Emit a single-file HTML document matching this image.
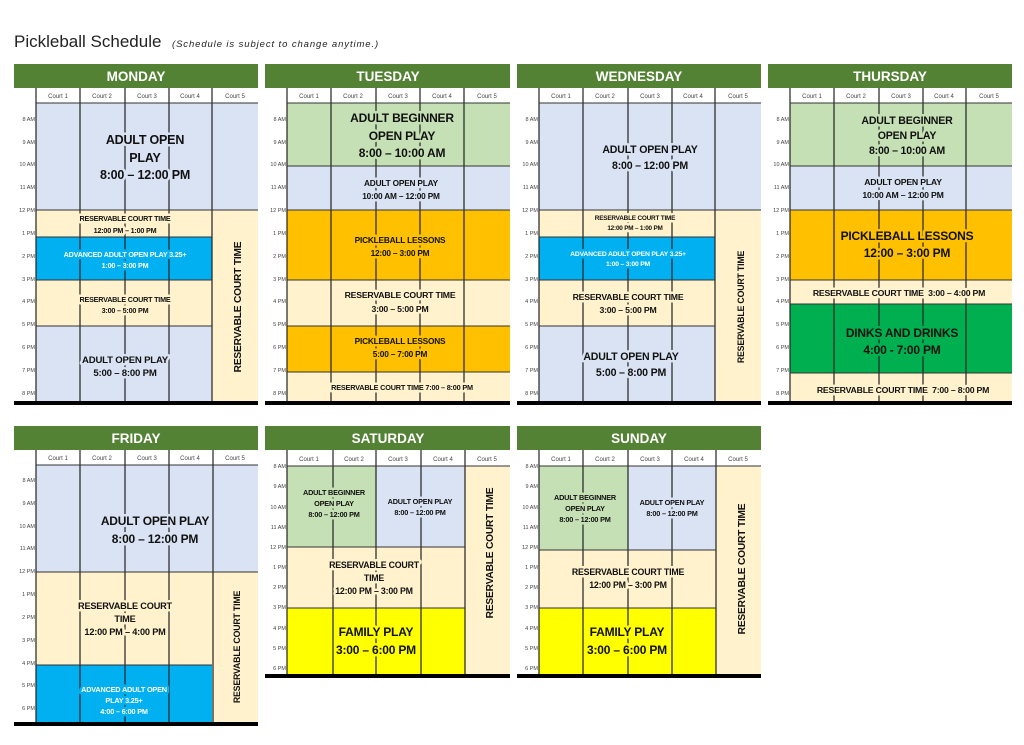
<!DOCTYPE html>
<html><head><meta charset="utf-8"><style>
html,body{margin:0;padding:0;background:#fff;}
svg{display:block;font-family:"Liberation Sans",sans-serif;}
.h{fill:#fff;font-weight:bold;font-size:13.5px;text-anchor:middle;}
.c{fill:#444;font-size:6px;text-anchor:middle;}
.t{fill:#444;font-size:5.5px;text-anchor:end;}
.b{font-weight:bold;text-anchor:middle;fill:#111;paint-order:stroke;stroke-width:5px;stroke-linejoin:round;letter-spacing:-0.2px;}
.sb{stroke:#dae3f3}.sc{stroke:#fff2cc}.sg{stroke:#c5e0b4}.so{stroke:#ffc000}.sa{stroke:#00b0f0;fill:#fff}.sd{stroke:#00b050}.sy{stroke:#ffff00}
.vl{stroke:#222;stroke-width:1.2}
.hl{stroke:#333;stroke-width:1}
</style></head><body>
<svg width="1024" height="745" viewBox="0 0 1024 745" xmlns="http://www.w3.org/2000/svg">
<text x="14" y="47" font-size="17" fill="#222">Pickleball Schedule</text>
<text x="172" y="47" font-size="9.5" font-style="italic" fill="#222" letter-spacing="0.9">(Schedule is subject to change anytime.)</text>

<!-- ================= MONDAY ================= -->
<rect x="14" y="64" width="244" height="24" fill="#548235"/>
<text class="h" x="136" y="81">MONDAY</text>
<rect x="36" y="103" width="222" height="107" fill="#dae3f3"/>
<rect x="36" y="210" width="176" height="27" fill="#fff2cc"/>
<rect x="36" y="237" width="176" height="43" fill="#00b0f0"/>
<rect x="36" y="280" width="176" height="46" fill="#fff2cc"/>
<rect x="36" y="326" width="176" height="75" fill="#dae3f3"/>
<rect x="212" y="210" width="46" height="191" fill="#fff2cc"/>
<g class="vl"><line x1="36" y1="88" x2="36" y2="401"/><line x1="80" y1="88" x2="80" y2="401"/><line x1="125" y1="88" x2="125" y2="401"/><line x1="169" y1="88" x2="169" y2="401"/><line x1="212" y1="88" x2="212" y2="401"/></g>
<g class="hl"><line x1="36" y1="103" x2="258" y2="103"/><line x1="36" y1="210" x2="258" y2="210"/><line x1="36" y1="237" x2="212" y2="237"/><line x1="36" y1="280" x2="212" y2="280"/><line x1="36" y1="326" x2="212" y2="326"/></g>
<rect x="14" y="401" width="244" height="4" fill="#000"/>

<!-- ================= TUESDAY ================= -->
<rect x="265" y="64" width="245" height="24" fill="#548235"/>
<text class="h" x="388" y="81">TUESDAY</text>
<rect x="287" y="103" width="223" height="63" fill="#c5e0b4"/>
<rect x="287" y="166" width="223" height="44" fill="#dae3f3"/>
<rect x="287" y="210" width="223" height="70" fill="#ffc000"/>
<rect x="287" y="280" width="223" height="46" fill="#fff2cc"/>
<rect x="287" y="326" width="223" height="46" fill="#ffc000"/>
<rect x="287" y="372" width="223" height="29" fill="#fff2cc"/>
<g class="vl"><line x1="287" y1="88" x2="287" y2="401"/><line x1="331" y1="88" x2="331" y2="401"/><line x1="376" y1="88" x2="376" y2="401"/><line x1="420" y1="88" x2="420" y2="401"/><line x1="464" y1="88" x2="464" y2="401"/></g>
<g class="hl"><line x1="287" y1="103" x2="510" y2="103"/><line x1="287" y1="166" x2="510" y2="166"/><line x1="287" y1="210" x2="510" y2="210"/><line x1="287" y1="280" x2="510" y2="280"/><line x1="287" y1="326" x2="510" y2="326"/><line x1="287" y1="372" x2="510" y2="372"/></g>
<rect x="265" y="401" width="245" height="4" fill="#000"/>

<!-- ================= WEDNESDAY ================= -->
<rect x="517" y="64" width="244" height="24" fill="#548235"/>
<text class="h" x="639" y="81">WEDNESDAY</text>
<rect x="539" y="103" width="222" height="107" fill="#dae3f3"/>
<rect x="539" y="210" width="176" height="27" fill="#fff2cc"/>
<rect x="539" y="237" width="176" height="43" fill="#00b0f0"/>
<rect x="539" y="280" width="176" height="46" fill="#fff2cc"/>
<rect x="539" y="326" width="176" height="75" fill="#dae3f3"/>
<rect x="715" y="210" width="46" height="191" fill="#fff2cc"/>
<g class="vl"><line x1="539" y1="88" x2="539" y2="401"/><line x1="583" y1="88" x2="583" y2="401"/><line x1="628" y1="88" x2="628" y2="401"/><line x1="672" y1="88" x2="672" y2="401"/><line x1="715" y1="88" x2="715" y2="401"/></g>
<g class="hl"><line x1="539" y1="103" x2="761" y2="103"/><line x1="539" y1="210" x2="761" y2="210"/><line x1="539" y1="237" x2="715" y2="237"/><line x1="539" y1="280" x2="715" y2="280"/><line x1="539" y1="326" x2="715" y2="326"/></g>
<rect x="517" y="401" width="244" height="4" fill="#000"/>

<!-- ================= THURSDAY ================= -->
<rect x="768" y="64" width="244" height="24" fill="#548235"/>
<text class="h" x="890" y="81">THURSDAY</text>
<rect x="790" y="103" width="222" height="63" fill="#c5e0b4"/>
<rect x="790" y="166" width="222" height="44" fill="#dae3f3"/>
<rect x="790" y="210" width="222" height="70" fill="#ffc000"/>
<rect x="790" y="280" width="222" height="24" fill="#fff2cc"/>
<rect x="790" y="304" width="222" height="69" fill="#00b050"/>
<rect x="790" y="373" width="222" height="28" fill="#fff2cc"/>
<g class="vl"><line x1="790" y1="88" x2="790" y2="401"/><line x1="834" y1="88" x2="834" y2="401"/><line x1="879" y1="88" x2="879" y2="401"/><line x1="923" y1="88" x2="923" y2="401"/><line x1="966" y1="88" x2="966" y2="401"/></g>
<g class="hl"><line x1="790" y1="103" x2="1012" y2="103"/><line x1="790" y1="166" x2="1012" y2="166"/><line x1="790" y1="210" x2="1012" y2="210"/><line x1="790" y1="280" x2="1012" y2="280"/><line x1="790" y1="304" x2="1012" y2="304"/><line x1="790" y1="373" x2="1012" y2="373"/></g>
<rect x="768" y="401" width="244" height="4" fill="#000"/>

<!-- court headers -->
<g class="c">
<text x="58" y="98">Court 1</text><text x="102" y="98">Court 2</text><text x="147" y="98">Court 3</text><text x="190" y="98">Court 4</text><text x="235" y="98">Court 5</text>
<text x="309" y="98">Court 1</text><text x="353" y="98">Court 2</text><text x="398" y="98">Court 3</text><text x="442" y="98">Court 4</text><text x="487" y="98">Court 5</text>
<text x="561" y="98">Court 1</text><text x="605" y="98">Court 2</text><text x="650" y="98">Court 3</text><text x="693" y="98">Court 4</text><text x="738" y="98">Court 5</text>
<text x="812" y="98">Court 1</text><text x="856" y="98">Court 2</text><text x="901" y="98">Court 3</text><text x="944" y="98">Court 4</text><text x="989" y="98">Court 5</text>
<text x="58" y="460">Court 1</text><text x="102" y="460">Court 2</text><text x="147" y="460">Court 3</text><text x="190" y="460">Court 4</text><text x="235" y="460">Court 5</text>
<text x="309" y="461">Court 1</text><text x="354" y="461">Court 2</text><text x="398" y="461">Court 3</text><text x="443" y="461">Court 4</text><text x="487" y="461">Court 5</text>
<text x="561" y="461">Court 1</text><text x="605" y="461">Court 2</text><text x="650" y="461">Court 3</text><text x="694" y="461">Court 4</text><text x="738" y="461">Court 5</text>
</g>

<!-- time labels -->
<g class="t">
<g id="tl1">
<text x="35" y="121">8 AM</text><text x="35" y="144">9 AM</text><text x="35" y="166">10 AM</text><text x="35" y="189">11 AM</text><text x="35" y="212">12 PM</text><text x="35" y="235">1 PM</text><text x="35" y="258">2 PM</text><text x="35" y="281">3 PM</text><text x="35" y="303">4 PM</text><text x="35" y="326">5 PM</text><text x="35" y="349">6 PM</text><text x="35" y="372">7 PM</text><text x="35" y="395">8 PM</text>
</g>
<use href="#tl1" x="251"/><use href="#tl1" x="503"/><use href="#tl1" x="754"/>
<text x="35" y="482">8 AM</text><text x="35" y="505">9 AM</text><text x="35" y="528">10 AM</text><text x="35" y="550">11 AM</text><text x="35" y="573">12 PM</text><text x="35" y="596">1 PM</text><text x="35" y="619">2 PM</text><text x="35" y="642">3 PM</text><text x="35" y="665">4 PM</text><text x="35" y="687">5 PM</text><text x="35" y="710">6 PM</text>
<g id="tl2">
<text x="286" y="468">8 AM</text><text x="286" y="488">9 AM</text><text x="286" y="509">10 AM</text><text x="286" y="529">11 AM</text><text x="286" y="549">12 PM</text><text x="286" y="569">1 PM</text><text x="286" y="589">2 PM</text><text x="286" y="609">3 PM</text><text x="286" y="630">4 PM</text><text x="286" y="650">5 PM</text><text x="286" y="670">6 PM</text>
</g>
<use href="#tl2" x="252"/>
</g>

<!-- ================= FRIDAY ================= -->
<rect x="14" y="426" width="244" height="24" fill="#548235"/>
<text class="h" x="136" y="443">FRIDAY</text>
<rect x="36" y="465" width="222" height="107" fill="#dae3f3"/>
<rect x="36" y="572" width="176" height="93" fill="#fff2cc"/>
<rect x="36" y="665" width="176" height="57" fill="#00b0f0"/>
<rect x="212" y="572" width="46" height="150" fill="#fff2cc"/>
<g class="vl"><line x1="36" y1="450" x2="36" y2="722"/><line x1="80" y1="450" x2="80" y2="722"/><line x1="125" y1="450" x2="125" y2="722"/><line x1="169" y1="450" x2="169" y2="722"/><line x1="213" y1="450" x2="213" y2="722"/></g>
<g class="hl"><line x1="36" y1="465" x2="258" y2="465"/><line x1="36" y1="572" x2="258" y2="572"/><line x1="36" y1="665" x2="212" y2="665"/></g>
<rect x="14" y="722" width="244" height="4" fill="#000"/>

<!-- ================= SATURDAY ================= -->
<rect x="265" y="426" width="245" height="24" fill="#548235"/>
<text class="h" x="388" y="443">SATURDAY</text>
<rect x="287" y="466" width="89" height="81" fill="#c5e0b4"/>
<rect x="376" y="466" width="89" height="81" fill="#dae3f3"/>
<rect x="287" y="547" width="178" height="61" fill="#fff2cc"/>
<rect x="287" y="608" width="178" height="66" fill="#ffff00"/>
<rect x="465" y="466" width="45" height="208" fill="#fff2cc"/>
<g class="vl"><line x1="287" y1="450" x2="287" y2="674"/><line x1="333" y1="450" x2="333" y2="674"/><line x1="376" y1="450" x2="376" y2="674"/><line x1="421" y1="450" x2="421" y2="674"/><line x1="465" y1="450" x2="465" y2="674"/></g>
<g class="hl"><line x1="287" y1="466" x2="510" y2="466"/><line x1="287" y1="547" x2="465" y2="547"/><line x1="287" y1="608" x2="465" y2="608"/></g>
<rect x="265" y="674" width="245" height="4" fill="#000"/>

<!-- ================= SUNDAY ================= -->
<rect x="517" y="426" width="244" height="24" fill="#548235"/>
<text class="h" x="639" y="443">SUNDAY</text>
<rect x="539" y="466" width="89" height="84" fill="#c5e0b4"/>
<rect x="628" y="466" width="88" height="84" fill="#dae3f3"/>
<rect x="539" y="550" width="177" height="58" fill="#fff2cc"/>
<rect x="539" y="608" width="177" height="66" fill="#ffff00"/>
<rect x="716" y="466" width="45" height="208" fill="#fff2cc"/>
<g class="vl"><line x1="539" y1="450" x2="539" y2="674"/><line x1="583" y1="450" x2="583" y2="674"/><line x1="628" y1="450" x2="628" y2="674"/><line x1="672" y1="450" x2="672" y2="674"/><line x1="716" y1="450" x2="716" y2="674"/></g>
<g class="hl"><line x1="539" y1="466" x2="761" y2="466"/><line x1="539" y1="550" x2="716" y2="550"/><line x1="539" y1="608" x2="716" y2="608"/></g>
<rect x="517" y="674" width="244" height="4" fill="#000"/>

<!-- ================= TEXT ================= -->
<g class="b sb" font-size="12.5"><text x="145" y="144">ADULT OPEN</text><text x="145" y="162">PLAY</text><text x="145" y="179">8:00 – 12:00 PM</text></g>
<g class="b sc" font-size="7.2"><text x="125" y="221">RESERVABLE COURT TIME</text><text x="125" y="233">12:00 PM – 1:00 PM</text></g>
<g class="b sa" font-size="7.2"><text x="125" y="257">ADVANCED ADULT OPEN PLAY 3.25+</text><text x="125" y="268">1:00 – 3:00 PM</text></g>
<g class="b sc" font-size="7.2"><text x="125" y="302">RESERVABLE COURT TIME</text><text x="125" y="313">3:00 – 5:00 PM</text></g>
<g class="b sb" font-size="9.6"><text x="125" y="363">ADULT OPEN PLAY</text><text x="125" y="376">5:00 – 8:00 PM</text></g>
<text class="b sc" font-size="10.2" transform="translate(241,307) rotate(-90)">RESERVABLE COURT TIME</text>

<g class="b sg" font-size="12"><text x="402" y="122">ADULT BEGINNER</text><text x="402" y="140">OPEN PLAY</text><text x="402" y="157">8:00 – 10:00 AM</text></g>
<g class="b sb" font-size="8.3"><text x="401" y="186">ADULT OPEN PLAY</text><text x="401" y="199">10:00 AM – 12:00 PM</text></g>
<g class="b so" font-size="8.3"><text x="400" y="243">PICKLEBALL LESSONS</text><text x="400" y="256">12:00 – 3:00 PM</text></g>
<g class="b sc" font-size="8.7"><text x="400" y="298">RESERVABLE COURT TIME</text><text x="400" y="312">3:00 – 5:00 PM</text></g>
<g class="b so" font-size="8.3"><text x="400" y="344">PICKLEBALL LESSONS</text><text x="400" y="357">5:00 – 7:00 PM</text></g>
<text class="b sc" font-size="7.3" x="402" y="390">RESERVABLE COURT TIME 7:00 – 8:00 PM</text>

<g class="b sb" font-size="10.6"><text x="650" y="153">ADULT OPEN PLAY</text><text x="650" y="169">8:00 – 12:00 PM</text></g>
<g class="b sc" font-size="6.4"><text x="635" y="220">RESERVABLE COURT TIME</text><text x="635" y="230">12:00 PM – 1:00 PM</text></g>
<g class="b sa" font-size="6.8"><text x="628" y="256">ADVANCED ADULT OPEN PLAY 3.25+</text><text x="628" y="266">1:00 – 3:00 PM</text></g>
<g class="b sc" font-size="8.7"><text x="628" y="300">RESERVABLE COURT TIME</text><text x="628" y="313">3:00 – 5:00 PM</text></g>
<g class="b sb" font-size="10.6"><text x="631" y="360">ADULT OPEN PLAY</text><text x="631" y="376">5:00 – 8:00 PM</text></g>
<text class="b sc" font-size="8.8" transform="translate(744,307) rotate(-90)">RESERVABLE COURT TIME</text>

<g class="b sg" font-size="10.6"><text x="907" y="124">ADULT BEGINNER</text><text x="907" y="139">OPEN PLAY</text><text x="907" y="154">8:00 – 10:00 AM</text></g>
<g class="b sb" font-size="8.7"><text x="903" y="185">ADULT OPEN PLAY</text><text x="903" y="198">10:00 AM – 12:00 PM</text></g>
<g class="b so" font-size="12"><text x="907" y="240">PICKLEBALL LESSONS</text><text x="907" y="257">12:00 – 3:00 PM</text></g>
<text class="b sc" font-size="8.7" x="899" y="296" xml:space="preserve">RESERVABLE COURT TIME  3:00 – 4:00 PM</text>
<g class="b sd" font-size="12"><text x="902" y="337">DINKS AND DRINKS</text><text x="902" y="354">4:00 - 7:00 PM</text></g>
<text class="b sc" font-size="8.7" x="903" y="393" xml:space="preserve">RESERVABLE COURT TIME  7:00 – 8:00 PM</text>

<g class="b sb" font-size="12"><text x="155" y="525">ADULT OPEN PLAY</text><text x="155" y="543">8:00 – 12:00 PM</text></g>
<g class="b sc" font-size="9.2"><text x="125" y="609">RESERVABLE COURT</text><text x="125" y="622">TIME</text><text x="125" y="635">12:00 PM – 4:00 PM</text></g>
<g class="b sa" font-size="7.3"><text x="124" y="692">ADVANCED ADULT OPEN</text><text x="124" y="703">PLAY 3.25+</text><text x="124" y="714">4:00 – 6:00 PM</text></g>
<text class="b sc" font-size="8.8" transform="translate(240,647) rotate(-90)">RESERVABLE COURT TIME</text>

<g class="b sg" font-size="7.3"><text x="334" y="495">ADULT BEGINNER</text><text x="334" y="506">OPEN PLAY</text><text x="334" y="517">8:00 – 12:00 PM</text></g>
<g class="b sb" font-size="7.3"><text x="420" y="504">ADULT OPEN PLAY</text><text x="420" y="515">8:00 – 12:00 PM</text></g>
<g class="b sc" font-size="8.8"><text x="374" y="568">RESERVABLE COURT</text><text x="374" y="581">TIME</text><text x="374" y="594">12:00 PM – 3:00 PM</text></g>
<g class="b sy" font-size="12"><text x="376" y="636">FAMILY PLAY</text><text x="376" y="654">3:00 – 6:00 PM</text></g>
<text class="b sc" font-size="10.2" transform="translate(493,553) rotate(-90)">RESERVABLE COURT TIME</text>

<g class="b sg" font-size="7.3"><text x="585" y="500">ADULT BEGINNER</text><text x="585" y="511">OPEN PLAY</text><text x="585" y="522">8:00 – 12:00 PM</text></g>
<g class="b sb" font-size="7.3"><text x="672" y="505">ADULT OPEN PLAY</text><text x="672" y="516">8:00 – 12:00 PM</text></g>
<g class="b sc" font-size="8.8"><text x="628" y="575">RESERVABLE COURT TIME</text><text x="628" y="588">12:00 PM – 3:00 PM</text></g>
<g class="b sy" font-size="12"><text x="627" y="636">FAMILY PLAY</text><text x="627" y="654">3:00 – 6:00 PM</text></g>
<text class="b sc" font-size="10.2" transform="translate(745,569) rotate(-90)">RESERVABLE COURT TIME</text>
</svg>
</body></html>
